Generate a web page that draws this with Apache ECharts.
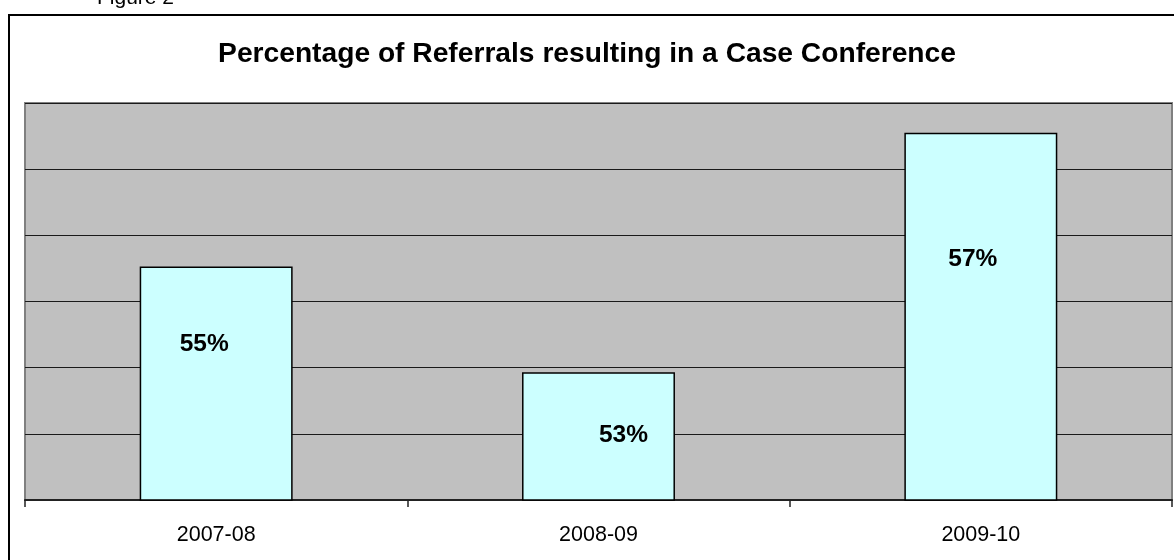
<!DOCTYPE html>
<html>
<head>
<meta charset="utf-8">
<script src="https://cdn.jsdelivr.net/npm/echarts@6/dist/echarts.min.js"></script>
<style>
html,body{margin:0;padding:0;background:#fff;}
#chart{width:1174px;height:560px;}
</style>
</head>
<body>
<div id="chart"></div>
<script>
const titleText = 'Percentage of Referrals resulting in a Case Conference';
const figureCaption = 'Figure 2';
const categories = ['2007-08', '2008-09', '2009-10'];
const values = [54.53, 52.93, 56.55];
const yMin = 51, yMax = 57, yStep = 1;
// label placement (style only), as seen in the reference
const labelOffsets = [[-12, -39], [25, -1], [-8, -58]];

const chart = echarts.init(document.getElementById('chart'), null, {renderer: 'canvas'});
const FONT = 'Liberation Sans, Arial, sans-serif';

chart.setOption({
  animation: false,
  backgroundColor: '#ffffff',
  title: {
    text: titleText,
    left: 'center',
    top: 35,
    textStyle: {fontFamily: FONT, fontWeight: 'bold', fontSize: 28.2, color: '#000'}
  },
  graphic: [
    {type: 'rect', shape: {x: 9, y: 15, width: 1300, height: 700}, style: {fill: 'none', stroke: '#000', lineWidth: 2}, silent: true},
    {type: 'text', x: 97, y: -12, style: {text: figureCaption, font: '21px ' + FONT, fill: '#000'}, silent: true}
  ],
  grid: {
    left: 25, right: 2, top: 103, bottom: 60,
    show: true, backgroundColor: '#C0C0C0', borderColor: '#808080', borderWidth: 2
  },
  xAxis: {
    type: 'category',
    data: categories,
    axisLine: {show: true, lineStyle: {color: '#222', width: 2}},
    axisTick: {show: true, length: 7, lineStyle: {color: '#222', width: 1.5}},
    axisLabel: {fontFamily: FONT, fontSize: 21.5, color: '#000', margin: 24}
  },
  yAxis: {
    type: 'value', min: yMin, max: yMax, interval: yStep,
    axisLine: {show: false}, axisTick: {show: false}, axisLabel: {show: false},
    splitLine: {show: true, lineStyle: {color: '#1a1a1a', width: 1.2}}
  },
  series: [{
    type: 'bar',
    barWidth: '40%',
    data: values.map((v, i) => ({
      value: v,
      label: {offset: labelOffsets[i]}
    })),
    itemStyle: {color: '#CCFFFF', borderColor: '#000', borderWidth: 1.5},
    label: {
      show: true, position: 'inside',
      formatter: p => Math.round(p.value) + '%',
      fontFamily: FONT, fontWeight: 'bold', fontSize: 24.5, color: '#000'
    }
  }]
});
</script>
</body>
</html>
